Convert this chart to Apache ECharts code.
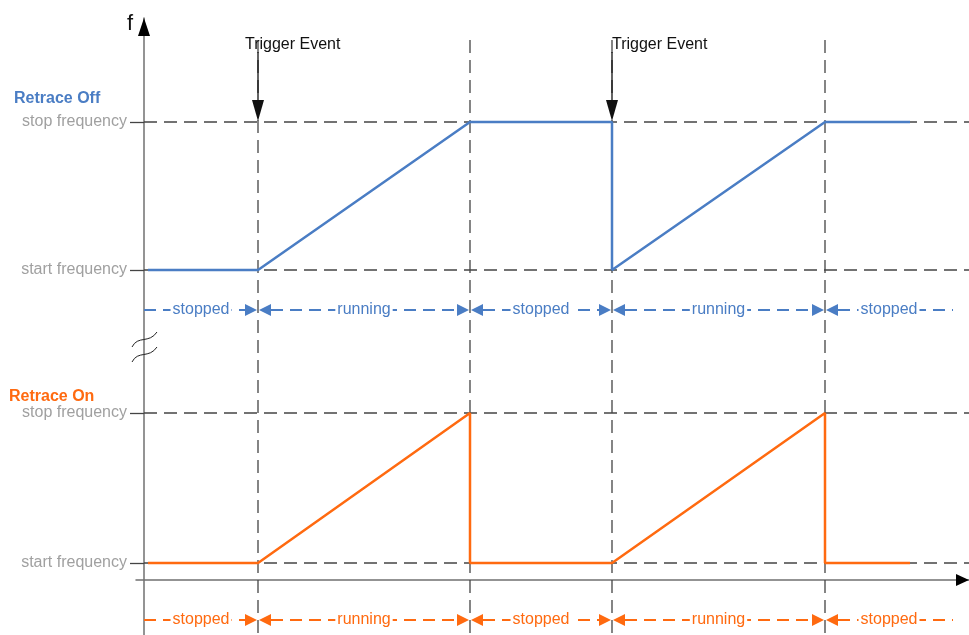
<!DOCTYPE html>
<html>
<head>
<meta charset="utf-8">
<script src="https://cdn.jsdelivr.net/npm/echarts@6/dist/echarts.min.js"></script>
<style>
  html, body { margin: 0; padding: 0; background: #fff; }
  #chart { width: 969px; height: 635px; }
</style>
</head>
<body>
<div id="chart"></div>
<script>
// time in arbitrary units, frequency in plot units (both panels share one axis)
const EVENT_TIMES = [11.4, 32.6, 46.8, 68.1];
const TRIGGER_TIMES = [11.4, 46.8];
const TRIGGER_LABEL = 'Trigger Event';
const LEVEL_NAMES = ['start frequency', 'stop frequency'];
const OFF_LEVELS = [31.0, 45.8];   // start, stop
const ON_LEVELS = [1.7, 16.7];     // start, stop
const OFF_TIMES = [0.4, 11.4, 32.6, 46.8, 46.8, 68.1, 76.6];
const OFF_STEPS = [0, 0, 1, 1, 0, 1, 1];   // 0 = start, 1 = stop
const ON_TIMES = [0.4, 11.4, 32.6, 32.6, 46.8, 68.1, 68.1, 76.6];
const ON_STEPS = [0, 0, 1, 0, 0, 1, 0, 0];
const STATE_BOUNDS = [0, 11.4, 32.6, 46.8, 68.1, 80.9];
const STATE_NAMES = ['stopped', 'running', 'stopped', 'running', 'stopped'];
const STATE_ROWS = [27.0, -4.0];   // off row, on row
const GUIDE_TOP = 54;
const TRIGGER_TOP = 52.8;
const TRIGGER_TEXT_Y = 53.5;
const TRIGGER_DX = [-13, 0];
const BREAK_AT = 23.3;

const BLUE = '#4a7dc4';
const ORANGE = '#ff6a10';
const FONT = '"Liberation Sans", Arial, sans-serif';
const ROW_COLORS = [BLUE, ORANGE];

const levelValues = OFF_LEVELS.concat(ON_LEVELS);
const levelName = v => {
  let i = OFF_LEVELS.indexOf(v);
  if (i < 0) i = ON_LEVELS.indexOf(v);
  return LEVEL_NAMES[i];
};

const stateData = [];
STATE_ROWS.forEach((row, r) => {
  STATE_NAMES.forEach((name, i) => {
    stateData.push([STATE_BOUNDS[i], row, STATE_BOUNDS[i + 1], i, r]);
  });
});

const chart = echarts.init(document.getElementById('chart'));
chart.setOption({
  animation: false,
  backgroundColor: '#fff',
  title: [
    { text: 'Retrace Off', left: 14, top: 91, padding: 0,
      textStyle: { color: BLUE, fontSize: 16, fontWeight: 'bold', fontFamily: FONT } },
    { text: 'Retrace On', left: 9, top: 389, padding: 0,
      textStyle: { color: ORANGE, fontSize: 16, fontWeight: 'bold', fontFamily: FONT } }
  ],
  grid: { left: 136, right: 0, top: 18, bottom: 0 },
  xAxis: {
    type: 'value', min: -0.8, max: 82.5,
    axisLine: { onZero: true, lineStyle: { color: '#707070', width: 1.5 } },
    axisTick: { show: false }, axisLabel: { show: false }, splitLine: { show: false }
  },
  yAxis: {
    type: 'value', min: -5.5, max: 56.2,
    name: 'f', nameLocation: 'end', nameGap: -6,
    nameTextStyle: { fontSize: 22, color: '#111', fontFamily: FONT, align: 'right',
      verticalAlign: 'middle', padding: [0, 11, 0, 0] },
    axisLine: { show: true, onZero: true, lineStyle: { color: '#707070', width: 1.5 } },
    axisTick: { show: true, customValues: levelValues, length: 14,
      lineStyle: { color: '#444', width: 1.3 } },
    axisLabel: { customValues: levelValues, formatter: v => levelName(v), margin: 9,
      color: '#a0a0a0', fontSize: 16, fontFamily: FONT },
    splitLine: { show: false }
  },
  series: [
    {
      name: 'levels', type: 'custom', z: 1, silent: true,
      data: levelValues.map(v => [0, v]),
      renderItem: (params, api) => {
        const p = api.coord([0, api.value(1)]);
        const cs = params.coordSys;
        return { type: 'line',
          shape: { x1: p[0], y1: p[1], x2: cs.x + cs.width, y2: p[1] },
          style: { stroke: '#444', lineWidth: 1.3, lineDash: [13, 7] } };
      }
    },
    {
      name: 'events', type: 'custom', z: 1, silent: true,
      data: EVENT_TIMES.map(t => [t, GUIDE_TOP]),
      renderItem: (params, api) => {
        const p = api.coord([api.value(0), api.value(1)]);
        const cs = params.coordSys;
        return { type: 'line',
          shape: { x1: p[0], y1: p[1], x2: p[0], y2: cs.y + cs.height },
          style: { stroke: '#444', lineWidth: 1.3, lineDash: [13, 7] } };
      }
    },
    {
      name: 'axisArrows', type: 'custom', z: 5, silent: true,
      data: [[0, 0]],
      renderItem: (params, api) => {
        const o = api.coord([api.value(0), api.value(1)]);
        const cs = params.coordSys;
        const xe = cs.x + cs.width, ye = cs.y;
        return { type: 'group', children: [
          { type: 'polygon', shape: { points: [[xe, o[1]], [xe - 13, o[1] - 6], [xe - 13, o[1] + 6]] },
            style: { fill: '#000' } },
          { type: 'polygon', shape: { points: [[o[0], ye], [o[0] - 6, ye + 18], [o[0] + 6, ye + 18]] },
            style: { fill: '#000' } }
        ] };
      }
    },
    {
      name: 'Retrace Off', type: 'line', z: 3, showSymbol: false, silent: true,
      data: OFF_TIMES.map((t, i) => [t, OFF_LEVELS[OFF_STEPS[i]]]),
      lineStyle: { color: BLUE, width: 2.5 }, itemStyle: { color: BLUE }
    },
    {
      name: 'Retrace On', type: 'line', z: 3, showSymbol: false, silent: true,
      data: ON_TIMES.map((t, i) => [t, ON_LEVELS[ON_STEPS[i]]]),
      lineStyle: { color: ORANGE, width: 2.5 }, itemStyle: { color: ORANGE }
    },
    {
      name: 'triggers', type: 'custom', z: 4, silent: true,
      data: TRIGGER_TIMES.map((t, i) => [t, TRIGGER_TOP, i]),
      renderItem: (params, api) => {
        const top = api.coord([api.value(0), api.value(1)]);
        const tip = api.coord([api.value(0), OFF_LEVELS[1]]);
        const txt = api.coord([api.value(0), TRIGGER_TEXT_Y]);
        const x = top[0];
        return { type: 'group', children: [
          { type: 'line', shape: { x1: x, y1: top[1], x2: x, y2: tip[1] - 20 },
            style: { stroke: '#111', lineWidth: 1.3 } },
          { type: 'polygon', shape: { points: [[x, tip[1] - 1], [x - 6, tip[1] - 22], [x + 6, tip[1] - 22]] },
            style: { fill: '#111' } },
          { type: 'text', x: x + TRIGGER_DX[api.value(2)], y: txt[1],
            style: { text: TRIGGER_LABEL, fill: '#111', fontSize: 16, fontFamily: FONT,
              align: 'left', verticalAlign: 'middle' } }
        ] };
      }
    },
    {
      name: 'states', type: 'custom', z: 4, silent: true,
      data: stateData,
      renderItem: (params, api) => {
        const a = api.coord([api.value(0), api.value(1)]);
        const b = api.coord([api.value(2), api.value(1)]);
        const idx = api.value(3);
        const color = ROW_COLORS[api.value(4)];
        const y = a[1];
        const hasL = idx > 0, hasR = idx < STATE_NAMES.length - 1;
        const x0 = a[0] + (hasL ? 1 : 0), x1 = b[0] - (hasR ? 1 : 0);
        const kids = [
          { type: 'line', shape: { x1: x0 + (hasL ? 12 : 0), y1: y, x2: x1 - (hasR ? 12 : 0), y2: y },
            style: { stroke: color, lineWidth: 2, lineDash: [12, 7] } },
          { type: 'text', x: (a[0] + b[0]) / 2, y: y,
            style: { text: STATE_NAMES[idx], fill: color, fontSize: 16, fontFamily: FONT,
              align: 'center', verticalAlign: 'middle', backgroundColor: '#fff', padding: [0, 2] } }
        ];
        if (hasL) kids.push({ type: 'polygon',
          shape: { points: [[x0, y], [x0 + 12, y - 6], [x0 + 12, y + 6]] }, style: { fill: color } });
        if (hasR) kids.push({ type: 'polygon',
          shape: { points: [[x1, y], [x1 - 12, y - 6], [x1 - 12, y + 6]] }, style: { fill: color } });
        return { type: 'group', children: kids };
      }
    },
    {
      name: 'break', type: 'custom', z: 5, silent: true,
      data: [[0, BREAK_AT]],
      renderItem: (params, api) => {
        const c = api.coord([api.value(0), api.value(1)]);
        const curve = dy => ({ type: 'bezierCurve',
          shape: { x1: c[0] - 12, y1: c[1] + dy, cpx1: c[0] - 6, cpy1: c[1] + dy - 12,
            cpx2: c[0] + 5, cpy2: c[1] + dy - 3, x2: c[0] + 13, y2: c[1] + dy - 15 },
          style: { stroke: '#222', lineWidth: 1, fill: null } });
        return { type: 'group', children: [curve(0), curve(15)] };
      }
    }
  ]
});
</script>
</body>
</html>
